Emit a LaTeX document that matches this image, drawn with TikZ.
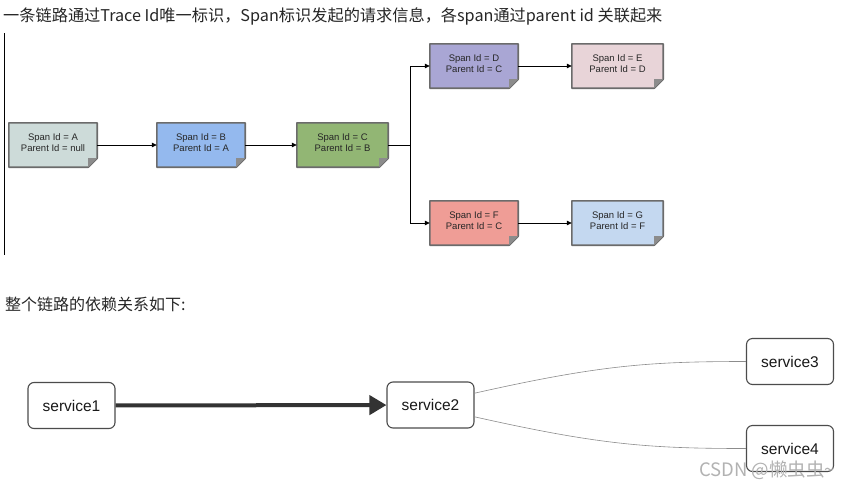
\documentclass[tikz,border=0pt]{standalone}
\usepackage{fontspec}
\setmainfont{Liberation Sans}
\newfontfamily\cjk{Noto Sans CJK SC}
\usetikzlibrary{arrows.meta,calc}
\definecolor{cA}{HTML}{CDDBD9}
\definecolor{cB}{HTML}{94B9EE}
\definecolor{cC}{HTML}{92B674}
\definecolor{cD}{HTML}{A9A6D4}
\definecolor{cE}{HTML}{E8D4D8}
\definecolor{cF}{HTML}{EF9D96}
\definecolor{cG}{HTML}{C4D8F0}
\definecolor{bord}{HTML}{6B6B6B}
\newcommand\spanbox[5]{%
  \node[spantext, minimum width=#3] (#1) at #2 {};
  \fill[#4, draw=bord, line width=1.6pt, line join=round]
    (#1.north west) -- (#1.north east) -- ($(#1.south east)+(0,-9)$)
    -- ($(#1.south east)+(-9,0)$) -- (#1.south west) -- cycle;
  \fill[black!45] ($(#1.south east)+(0,-9)$) -- ($(#1.south east)+(-9,-9)$) -- ($(#1.south east)+(-9,0)$) -- cycle;
  \node[inner sep=0pt, align=center, font=\fontsize{9.5}{11}\selectfont, text=black!85] (#1t) at ($(#1)+(0,-2.5)$) {#5};
}
\tikzset{
  spantext/.style={minimum height=44pt, inner sep=0pt},
  conn/.style={line width=0.8pt, -{Triangle[length=5pt,width=4.5pt]}},
  plain/.style={line width=0.8pt},
  svc/.style={draw=black!70, line width=1.1pt, rounded corners=6pt, minimum width=87pt, minimum height=46pt, inner sep=0pt, font=\fontsize{15.5}{18}\selectfont, text=black!90},
  dep/.style={draw=black!45, line width=0.6pt},
}
\begin{document}
\begin{tikzpicture}[x=1pt,y=-1pt]
\path[use as bounding box, fill=white] (0,0) rectangle (856,490);
\node[anchor=west, inner sep=0pt, text=black!85, font=\cjk\fontsize{16.2}{18}\selectfont] (title) at (3,16) {一条链路通过Trace Id唯一标识，Span标识发起的请求信息，各span通过parent id 关联起来};
\draw[line width=0.9pt] (4,33) -- (4,255);
\spanbox{A}{(53,145)}{88pt}{cA}{Span Id = A\\Parent Id = null}
\spanbox{B}{(201,145)}{88pt}{cB}{Span Id = B\\Parent Id = A}
\spanbox{C}{(342.5,145)}{91pt}{cC}{Span Id = C\\Parent Id = B}
\spanbox{D}{(474,66)}{88pt}{cD}{Span Id = D\\Parent Id = C}
\spanbox{E}{(617.5,66)}{91pt}{cE}{Span Id = E\\Parent Id = D}
\spanbox{F}{(474,223)}{88pt}{cF}{Span Id = F\\Parent Id = C}
\spanbox{G}{(617.5,223)}{91pt}{cG}{Span Id = G\\Parent Id = F}
\draw[conn] (A) -- (B);
\draw[conn] (B) -- (C);
\coordinate (br) at (410,145);
\draw[plain] (C.east) -- (br);
\draw[conn] (br) |- (D.west);
\draw[conn] (br) |- (F.west);
\draw[conn] (D) -- (E);
\draw[conn] (F) -- (G);
\node[anchor=west, inner sep=0pt, text=black!85, font=\cjk\fontsize{16}{18}\selectfont] (sub) at (5,304) {整个链路的依赖关系如下:};
\node[svc] (s1) at (71.5,405.5) {service1};
\node[svc] (s2) at (430.5,405) {service2};
\node[svc] (s3) at (790,361.5) {service3};
\node[svc] (s4) at (790,448.5) {service4};
\draw[line width=4pt, draw=black!80, -{Triangle[length=17pt,width=19pt]}] (s1) -- (s2);
\draw[dep] (s2.15) .. controls (600,365) and (650,361.5) .. (s3.west);
\draw[dep] (s2.-15) .. controls (600,445) and (650,448.5) .. (s4.west);
\node[anchor=west, inner sep=0pt, text=black!30, font=\cjk\fontsize{18.5}{20}\selectfont] (wm) at (699,470) {CSDN @懒虫虫\textasciitilde};
\end{tikzpicture}
\end{document}
